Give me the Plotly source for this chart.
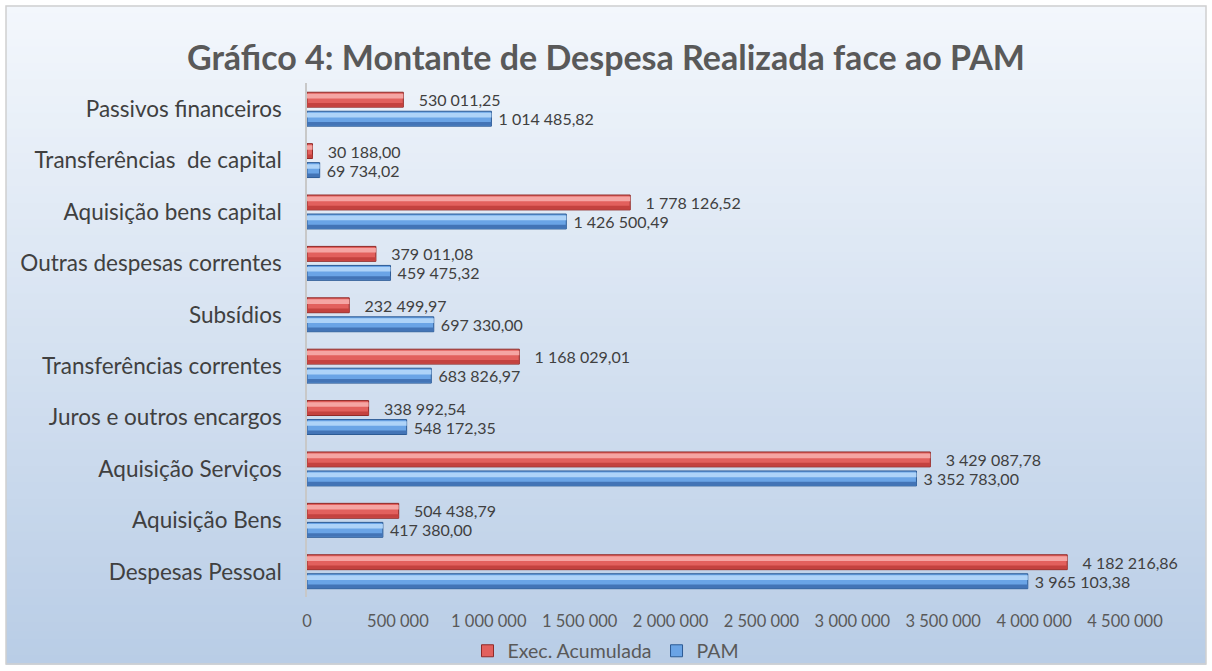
import plotly.graph_objects as go

categories = ["Despesas Pessoal", "Aquisição Bens", "Aquisição Serviços", "Juros e outros encargos",
              "Transferências correntes", "Subsídios", "Outras despesas correntes",
              "Aquisição bens capital", "Transferências  de capital", "Passivos financeiros"]
exec_acumulada = [4182216.86, 504438.79, 3429087.78, 338992.54, 1168029.01, 232499.97,
                  379011.08, 1778126.52, 30188.00, 530011.25]
pam = [3965103.38, 417380.00, 3352783.00, 548172.35, 683826.97, 697330.00,
       459475.32, 1426500.49, 69734.02, 1014485.82]
tick_values = [0, 500000, 1000000, 1500000, 2000000, 2500000, 3000000, 3500000, 4000000, 4500000]

W, H = 1212, 671
FONT = "Lato, Open Sans, sans-serif"
BW = 0.29  # bar thickness in category units

series = [
    # name, values, offset, base, light, dark, edge, text prefix
    ("Exec. Acumulada", exec_acumulada, 0.04, "#e2605d", "#f5a5a3", "#c4423f", "#8f2a28", "\u00a0\u00a0\u00a0"),
    ("PAM", pam, -0.04 - BW, "#6aa4e6", "#aed3f8", "#4374b6", "#2c5a94", "\u00a0"),
]

fig = go.Figure()
for name, vals, off, base, light, dark, edge, pre in series:
    fig.add_trace(go.Bar(
        y=categories, x=vals, orientation="h", name=name,
        offset=off, width=BW,
        marker=dict(color=base, line=dict(color=edge, width=1)),
        texttemplate=pre + "%{x:,.2f}", textposition="outside", constraintext="none",
        textfont=dict(family=FONT, size=16, color="#404040"),
        cliponaxis=False,
    ))
    # darker lower band
    fig.add_trace(go.Bar(
        y=categories, x=vals, orientation="h", showlegend=False, hoverinfo="skip",
        offset=off + 0.01, width=0.07,
        marker=dict(color=dark, line=dict(width=0)),
    ))
    # light upper band
    fig.add_trace(go.Bar(
        y=categories, x=vals, orientation="h", showlegend=False, hoverinfo="skip",
        offset=off + 0.17, width=0.09,
        marker=dict(color=light, line=dict(width=0)),
    ))

# gradient background via stacked rectangles
shapes = []
n = 80
top = (243, 247, 252)
bot = (185, 205, 230)
x0, x1 = 6 / W, 1206 / W
y_top, y_bot = 1 - 6 / H, 1 - 668 / H
for i in range(n):
    t = i / (n - 1)
    c = tuple(int(round(top[k] + (bot[k] - top[k]) * t)) for k in range(3))
    ya = y_top - (y_top - y_bot) * i / n
    yb = y_top - (y_top - y_bot) * (i + 1) / n
    shapes.append(dict(type="rect", xref="paper", yref="paper", x0=x0, x1=x1,
                       y0=yb - 0.001, y1=ya + 0.001, line=dict(width=0),
                       fillcolor="rgb(%d,%d,%d)" % c, layer="below"))
shapes.append(dict(type="rect", xref="paper", yref="paper", x0=x0, x1=x1, y0=y_bot, y1=y_top,
                   line=dict(color="#d0d0d0", width=1.5), fillcolor="rgba(0,0,0,0)", layer="below"))

ml, mr, mt, mb = 307, W - 1125, 84, H - 601
fig.update_layout(
    width=W, height=H,
    margin=dict(l=0, r=0, t=0, b=0, pad=0),
    paper_bgcolor="white", plot_bgcolor="rgba(0,0,0,0)",
    separators=", ",
    barmode="overlay",
    shapes=shapes,
    title=dict(text="<b>Gráfico 4: Montante de Despesa Realizada face ao PAM</b>",
               x=0.5, xanchor="center", y=1 - 58 / H, yanchor="middle", automargin=False,
               font=dict(family=FONT, size=34, color="#595959")),
    xaxis=dict(domain=[ml / W, 1 - mr / W], range=[0, 4500000], tickvals=tick_values,
               tickformat=",d", showgrid=False, zeroline=False, showline=False,
               automargin=False,
               tickfont=dict(family=FONT, size=16.5, color="#595959"),
               ticklabelstandoff=12, ticks=""),
    yaxis=dict(domain=[mb / H, 1 - mt / H], showgrid=False, zeroline=False,
               showline=True, linecolor="#c8c8c8", linewidth=1.5, automargin=False,
               tickfont=dict(family=FONT, size=22.5, color="#404040"),
               ticks="", ticklabelstandoff=19),
    legend=dict(orientation="h", x=0.5, xanchor="center", y=1 - 655 / H, yanchor="middle",
                font=dict(family=FONT, size=19.5, color="#595959"),
                bgcolor="rgba(0,0,0,0)", itemwidth=30),
    showlegend=True,
)

fig.write_html("out.html", config={"displayModeBar": False},
               post_script="document.body.style.margin='0';document.body.style.overflow='hidden';")
